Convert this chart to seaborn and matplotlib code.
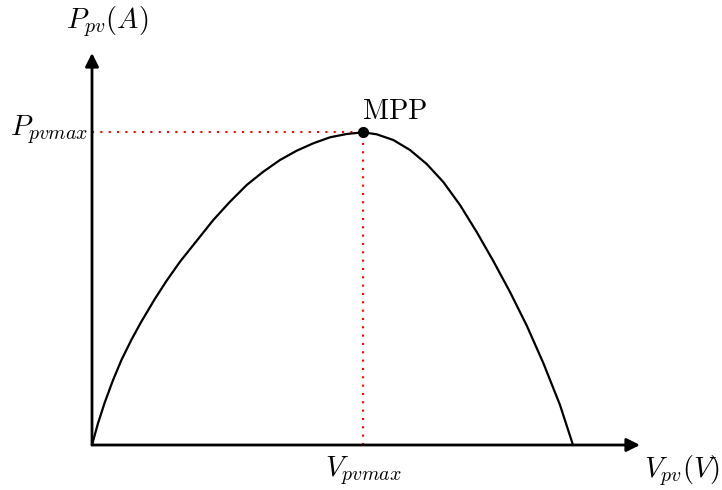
import matplotlib
matplotlib.use("Agg")
import matplotlib.pyplot as plt
import seaborn as sns
import pandas as pd

# P-V characteristic of a PV panel (arbitrary units)
voltage = [0.0, 0.6, 1.27, 2.1, 2.93, 3.93, 4.93, 6.27, 7.43, 8.8, 10.47,
           12.13, 13.8, 15.47, 17.13, 18.8, 20.47, 22.13, 23.8, 25.47, 27.1,
           28.47, 30.13, 31.8, 33.47, 35.13, 36.8, 38.47, 40.13, 41.8, 43.47,
           45.13, 46.8, 48.1]
power = [0.0, 2.17, 4.24, 6.48, 8.47, 10.5, 12.33, 14.58, 16.38, 18.33, 20.42,
         22.5, 24.33, 26.0, 27.33, 28.5, 29.43, 30.17, 30.77, 31.1, 31.27,
         31.07, 30.5, 29.5, 28.1, 26.3, 24.0, 21.3, 18.4, 15.3, 11.95,
         8.2, 4.0, 0.0]
mpp_v = 27.1
mpp_p = 31.27

sns.set_style("white")
plt.rcParams["mathtext.fontset"] = "cm"
plt.rcParams["font.family"] = ["DejaVu Serif"]
plt.rcParams["text.color"] = "black"

df = pd.DataFrame({"V": voltage, "P": power})

fig = plt.figure(figsize=(7.22, 4.9), dpi=100)
ax = fig.add_axes([0, 0, 1, 1])
ax.set_xlim(-9.2, 63.0)
ax.set_ylim(-4.5, 44.5)
ax.axis("off")

# reference lines to the maximum power point
ax.plot([0, mpp_v], [mpp_p, mpp_p], color="red", lw=1.5, ls=(0, (1, 3)))
ax.plot([mpp_v, mpp_v], [0, mpp_p], color="red", lw=1.5, ls=(0, (1, 3)))

sns.lineplot(data=df, x="V", y="P", ax=ax, color="black", lw=1.6,
             sort=False, estimator=None)
ax.plot([mpp_v], [mpp_p], "o", color="black", ms=7, zorder=5)

# axes with arrow heads
arrow = dict(arrowstyle="-|>", lw=2.0, color="black", mutation_scale=20,
             shrinkA=0, shrinkB=0)
ax.annotate("", xy=(54.8, 0), xytext=(0, 0), arrowprops=arrow)
ax.annotate("", xy=(0, 39.2), xytext=(0, 0), arrowprops=arrow)

fs = 20.5
ax.text(1.5, 42.3, r"$P_{pv}(A)$", fontsize=fs, ha="center", va="center")
ax.text(-0.4, 31.5, r"$P_{pvmax}$", fontsize=fs, ha="right", va="center")
ax.text(mpp_v, -2.6, r"$V_{pvmax}$", fontsize=fs, ha="center", va="center")
ax.text(62.8, -2.6, r"$V_{pv}(V)$", fontsize=fs, ha="right", va="center")
ax.text(27.0, 33.4, r"$\mathrm{MPP}$", fontsize=fs, ha="left", va="center")

fig.savefig("out.png", dpi=100)
